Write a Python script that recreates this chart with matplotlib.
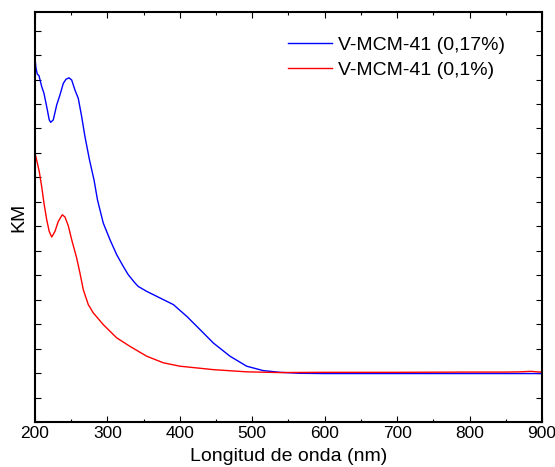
import matplotlib
matplotlib.use("Agg")
import matplotlib.pyplot as plt
from matplotlib.ticker import MultipleLocator, NullFormatter

plt.rcParams['font.family'] = ['Liberation Sans', 'DejaVu Sans']

blue_x = [200.0, 201.4, 203.2, 205.5, 209.3, 212.4, 216.2, 219.7, 221.7, 225.3, 230.0, 234.5,
          239.1, 242.8, 246.9, 250.7, 255.2, 259.8, 264.5, 269.0, 275.3, 281.5, 286.3, 294.3,
          303.6, 312.8, 321.9, 328.8, 338.1, 342.6, 354.2, 372.6, 391.0, 409.5, 427.8, 446.2,
          469.2, 492.3, 515.2, 538.3, 565.9, 600, 700, 800, 900]
blue_y = [12.87, 12.47, 12.22, 12.16, 11.71, 11.44, 10.89, 10.35, 10.25, 10.35, 10.96, 11.37,
          11.84, 12.01, 12.07, 11.98, 11.57, 11.23, 10.48, 9.67, 8.71, 7.90, 7.08, 6.13,
          5.45, 4.84, 4.36, 4.02, 3.68, 3.54, 3.34, 3.07, 2.80, 2.32, 1.78, 1.23,
          0.69, 0.28, 0.10, 0.03, -0.01, -0.02, -0.02, -0.02, -0.02]

red_x = [200.0, 202.3, 205.9, 209.3, 212.4, 216.2, 219.7, 223.1, 227.6, 232.2, 237.7, 241.4,
         246.0, 250.7, 257.6, 262.1, 266.7, 273.6, 280.5, 294.3, 312.8, 331.2, 354.2, 377.1,
         400.2, 446.2, 492.3, 538.3, 600, 700, 800, 850, 870, 885, 893, 900]
red_y = [9.01, 8.71, 8.24, 7.62, 6.95, 6.27, 5.79, 5.56, 5.79, 6.20, 6.47, 6.38,
         6.02, 5.45, 4.70, 4.09, 3.41, 2.80, 2.46, 1.98, 1.44, 1.09, 0.69, 0.42,
         0.28, 0.14, 0.05, 0.02, 0.03, 0.03, 0.04, 0.04, 0.05, 0.07, 0.05, 0.04]

labels = ['V-MCM-41 (0,17%)', 'V-MCM-41 (0,1%)']

fig = plt.figure(figsize=(5.55, 4.67), dpi=100)
ax = fig.add_axes([0.063, 0.0964, 0.9136, 0.8779])

ax.plot(blue_x, blue_y, color='#0000ff', lw=1.0, label=labels[0])
ax.plot(red_x, red_y, color='#ff0000', lw=1.0, label=labels[1])

ax.set_xlim(200, 900)
ax.set_ylim(-2, 14.76)
ax.xaxis.set_major_locator(MultipleLocator(100))
ax.xaxis.set_minor_locator(MultipleLocator(50))
ax.yaxis.set_major_locator(MultipleLocator(1))
ax.yaxis.set_major_formatter(NullFormatter())
ax.tick_params(axis='both', which='both', direction='in', top=True, right=True)
ax.tick_params(axis='both', which='major', length=4, width=0.8)
ax.tick_params(axis='x', which='minor', length=2.5, width=0.8)
ax.tick_params(axis='x', labelsize=12.5, pad=3)
for s in ax.spines.values():
    s.set_linewidth(1.5)

ax.set_xlabel('Longitud de onda (nm)', fontsize=14, labelpad=5)
ax.set_ylabel('KM', fontsize=14, labelpad=2)

ax.legend(loc='upper left', bbox_to_anchor=(0.472, 0.973), frameon=False, fontsize=14,
          handlelength=2.26, handletextpad=0.31, labelspacing=0.36, borderaxespad=0.3)

fig.savefig('out.png', dpi=100)
